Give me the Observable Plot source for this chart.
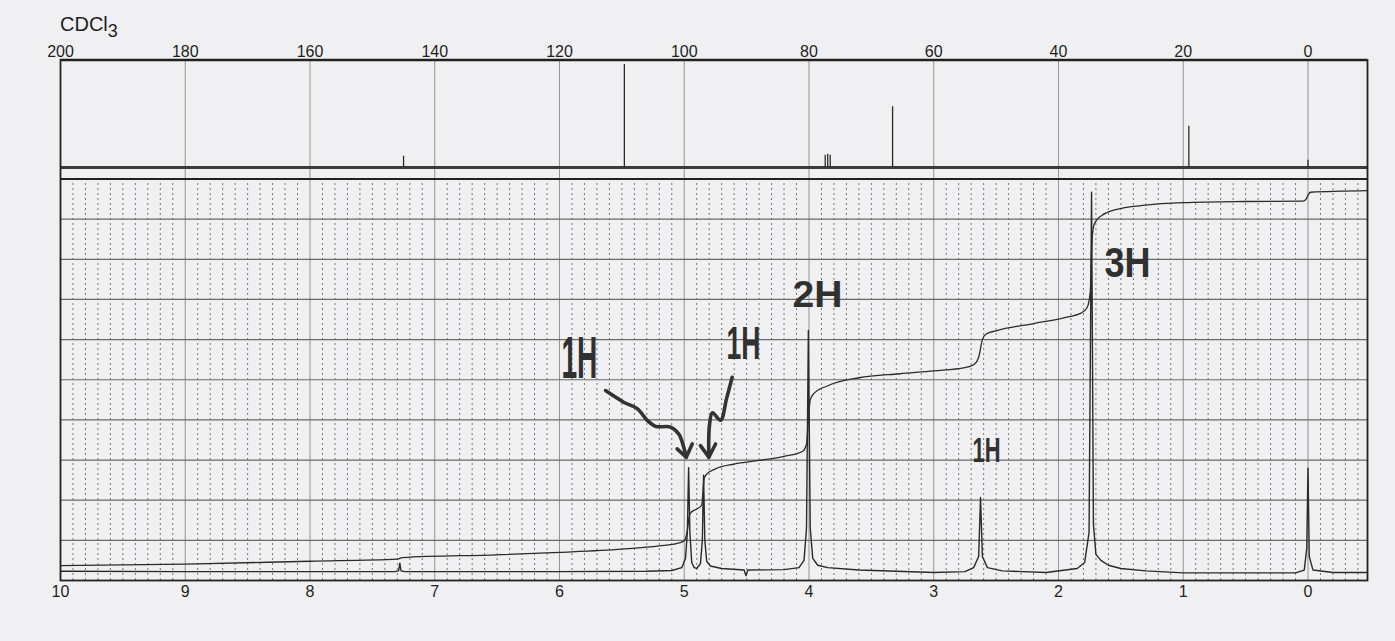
<!DOCTYPE html>
<html><head><meta charset="utf-8">
<script src="https://cdn.jsdelivr.net/npm/d3@7"></script>
<script src="https://cdn.jsdelivr.net/npm/@observablehq/plot@0.6"></script>
<style>
html,body{margin:0;padding:0;background:#f0f0f2;}
#chart{width:1395px;height:641px;overflow:hidden;}
</style>
</head><body><div id="chart"></div>
<script>
// ---------- data ----------
// 1H axis ticks (ppm) and 13C axis tick labels (ppm)
const h1Ticks = [10, 9, 8, 7, 6, 5, 4, 3, 2, 1, 0];
const c13Ticks = [200, 180, 160, 140, 120, 100, 80, 60, 40, 20, 0];

// 13C peaks: chemical shift (ppm) and relative height (% of tallest)
const c13Ppm    = [145.0, 109.6, 77.4, 77.0, 76.6, 66.6, 19.1, 0.0];
const c13Height = [11,    100,   12,   13,   12,   59,   40,   7];

// 1H spectrum trace: shift (ppm) and intensity (chart divisions)
const h1Ppm = [10.00, 9.00, 8.00, 7.32, 7.29, 7.28, 7.27, 7.24, 6.00, 5.30, 5.10, 5.02, 4.99, 4.975, 4.965, 4.955, 4.94, 4.92, 4.90, 4.87, 4.855, 4.845, 4.835, 4.82, 4.79, 4.70, 4.52, 4.505, 4.49, 4.20, 4.08, 4.04, 4.02, 4.005, 3.99, 3.97, 3.93, 3.85, 3.60, 3.00, 2.75, 2.68, 2.64, 2.625, 2.61, 2.57, 2.45, 2.10, 1.85, 1.79, 1.755, 1.735, 1.72, 1.70, 1.66, 1.60, 1.50, 1.30, 1.00, 0.10, 0.03, 0.01, 0.00, -0.01, -0.04, -0.20, -0.477];
const h1Int = [0.23, 0.22, 0.22, 0.22, 0.24, 0.43, 0.24, 0.22, 0.22, 0.23, 0.25, 0.32, 0.55, 1.20, 2.81, 1.20, 0.45, 0.32, 0.30, 0.42, 1.00, 2.62, 1.00, 0.48, 0.36, 0.30, 0.26, 0.12, 0.26, 0.27, 0.32, 0.50, 1.30, 6.23, 1.30, 0.55, 0.38, 0.32, 0.26, 0.20, 0.22, 0.32, 0.60, 2.07, 0.60, 0.32, 0.24, 0.20, 0.30, 0.45, 1.20, 9.67, 1.40, 0.65, 0.50, 0.38, 0.30, 0.24, 0.19, 0.19, 0.26, 0.80, 2.80, 0.60, 0.26, 0.20, 0.20];

// 1H integral trace: shift (ppm) and level (chart divisions)
const intPpm = [10.00, 9.00, 8.00, 7.30, 7.26, 6.50, 6.00, 5.50, 5.20, 5.05, 5.00, 4.975, 4.96, 4.945, 4.90, 4.86, 4.85, 4.84, 4.82, 4.75, 4.60, 4.40, 4.20, 4.05, 4.02, 4.005, 3.99, 3.96, 3.85, 3.60, 3.27, 3.00, 2.75, 2.67, 2.64, 2.61, 2.58, 2.50, 2.20, 1.95, 1.82, 1.77, 1.745, 1.735, 1.72, 1.70, 1.65, 1.55, 1.30, 1.00, 0.50, 0.04, 0.015, 0.00, -0.02, -0.477];
const intLevel = [0.37, 0.41, 0.48, 0.53, 0.57, 0.64, 0.70, 0.78, 0.86, 0.93, 0.99, 1.25, 1.60, 1.70, 1.78, 1.88, 2.20, 2.55, 2.65, 2.78, 2.90, 2.99, 3.09, 3.22, 3.40, 4.00, 4.50, 4.66, 4.85, 5.05, 5.15, 5.22, 5.30, 5.40, 5.56, 6.00, 6.14, 6.22, 6.40, 6.55, 6.66, 6.80, 7.20, 8.20, 8.80, 8.95, 9.10, 9.23, 9.35, 9.41, 9.44, 9.45, 9.50, 9.60, 9.67, 9.71];

// handwritten annotations: label, shift (ppm), level (chart divisions)
const annLabel = ["1H", "1H", "2H", "1H", "3H"];
const annPpm   = [5.84, 4.525, 3.932, 2.577, 1.447];
const annLevel = [5.53, 5.88, 7.10, 3.24, 7.90];

// handwritten arrows (shaft + head), grouped by id
const arrowId    = ["a1","a1","a1","a1","a1","a1","a1","a1","a1", "a2","a2","a2","a2","a2","a2"];
const arrowPpm   = [5.631, 5.485, 5.377, 5.297, 5.230, 5.110, 5.044, 5.004, 4.984, 4.616, 4.661, 4.709, 4.774, 4.798, 4.803];
const arrowLevel = [4.73, 4.44, 4.28, 3.99, 3.84, 3.82, 3.65, 3.32, 3.07, 5.06, 4.53, 3.99, 4.18, 3.86, 3.07];
const headId    = ["h1","h1","h1","h2","h2","h2"];
const headPpm   = [5.057, 4.984, 4.936, 4.870, 4.803, 4.749];
const headLevel = [3.28, 3.07, 3.40, 3.36, 3.07, 3.40];

// ---------- layout / style (not data) ----------
const C13_BASE = 10.286;        // 13C baseline level in chart units
const C13_SCALE = 2.566 / 100;  // chart units per % height
const Y_TOP = 12.964;
const annStyle = {size: [60, 46, 37, 35, 42], width: [36, 34, 50, 28, 46]};
const ink = "#2a2a2a";

// ---------- tables ----------
const c13 = c13Ppm.map((p, i) => ({x: p / 20, h: c13Height[i]}));
const h1 = h1Ppm.map((p, i) => ({x: p, y: h1Int[i]}));
const integ = intPpm.map((p, i) => ({x: p, y: intLevel[i]}));
const ann = annLabel.map((t, i) => ({t, x: annPpm[i], y: annLevel[i], s: annStyle.size[i]}));
const arrows = arrowPpm.map((p, i) => ({id: arrowId[i], x: p, y: arrowLevel[i]}));
const heads = headPpm.map((p, i) => ({id: headId[i], x: p, y: headLevel[i]}));
const minor = d3.range(-4, 100).filter(i => i % 10 !== 0).map(i => i / 10);

const plot = Plot.plot({
  width: 1395, height: 641,
  marginLeft: 60, marginRight: 28, marginTop: 59.5, marginBottom: 61,
  x: {domain: [10, -0.477]},
  y: {domain: [0, Y_TOP], axis: null},
  style: {background: "#f0f0f2", color: "#1e1e1e", fontFamily: "'Liberation Sans', Arial, sans-serif"},
  marks: [
    // chart-paper grid
    Plot.ruleX(minor, {y1: 0, y2: 10, stroke: "#555", strokeWidth: 0.8, strokeDasharray: "2,3"}),
    Plot.ruleX(h1Ticks, {y1: 0, y2: Y_TOP, stroke: "#8a8a8a", strokeWidth: 0.9}),
    Plot.ruleY(d3.range(1, 10), {stroke: "#6a6a6a", strokeWidth: 1.2}),
    // 13C spectrum
    Plot.ruleY([C13_BASE], {stroke: "#3a3a3a", strokeWidth: 3.2}),
    Plot.ruleX(c13, {x: "x", y1: C13_BASE, y2: d => C13_BASE + d.h * C13_SCALE, stroke: ink, strokeWidth: 1.3}),
    // 1H spectrum and integral
    Plot.line(integ, {x: "x", y: "y", curve: "monotone-x", stroke: ink, strokeWidth: 1.3}),
    Plot.line(h1, {x: "x", y: "y", stroke: ink, strokeWidth: 1.4}),
    // frame
    Plot.ruleY([10], {stroke: "#222", strokeWidth: 2}),
    Plot.ruleY([Y_TOP], {stroke: "#222", strokeWidth: 2.6}),
    Plot.frame({stroke: "#222", strokeWidth: 1.8}),
    // axes
    Plot.axisX({anchor: "bottom", ticks: h1Ticks, tickSize: 0, tickPadding: 5, fontSize: 16, label: null}),
    Plot.axisX({anchor: "top", ticks: c13Ticks.map(v => v / 20), tickFormat: d => String(Math.round(d * 20)), tickSize: 0, tickPadding: 3, fontSize: 16, label: null}),
    // handwritten annotations
    Plot.line(arrows, {x: "x", y: "y", z: "id", curve: "catmull-rom", stroke: "#333", strokeWidth: 3.6, strokeLinecap: "round", strokeLinejoin: "round"}),
    Plot.line(heads, {x: "x", y: "y", z: "id", stroke: "#333", strokeWidth: 3.6, strokeLinecap: "round", strokeLinejoin: "round"}),
    Plot.text(ann, {x: "x", y: "y", text: "t", fontSize: "s", fontWeight: "bold", fill: "#303030", textAnchor: "middle"})
  ]
});

document.getElementById("chart").appendChild(plot);

// narrow the handwritten-looking labels
const annTexts = plot.querySelectorAll('g[aria-label="text"] text');
annTexts.forEach((el, i) => {
  if (annStyle.width[i] != null) {
    el.setAttribute("textLength", annStyle.width[i]);
    el.setAttribute("lengthAdjust", "spacingAndGlyphs");
  }
});

// solvent label
const lab = d3.select(plot).append("text")
  .attr("x", 60).attr("y", 31)
  .attr("text-anchor", "start")
  .attr("font-size", 20).attr("fill", "#1e1e1e")
  .attr("font-family", "'Liberation Sans', Arial, sans-serif")
  .text("CDCl");
lab.append("tspan").attr("dy", 6).attr("font-size", 18).text("3");
</script></body></html>
